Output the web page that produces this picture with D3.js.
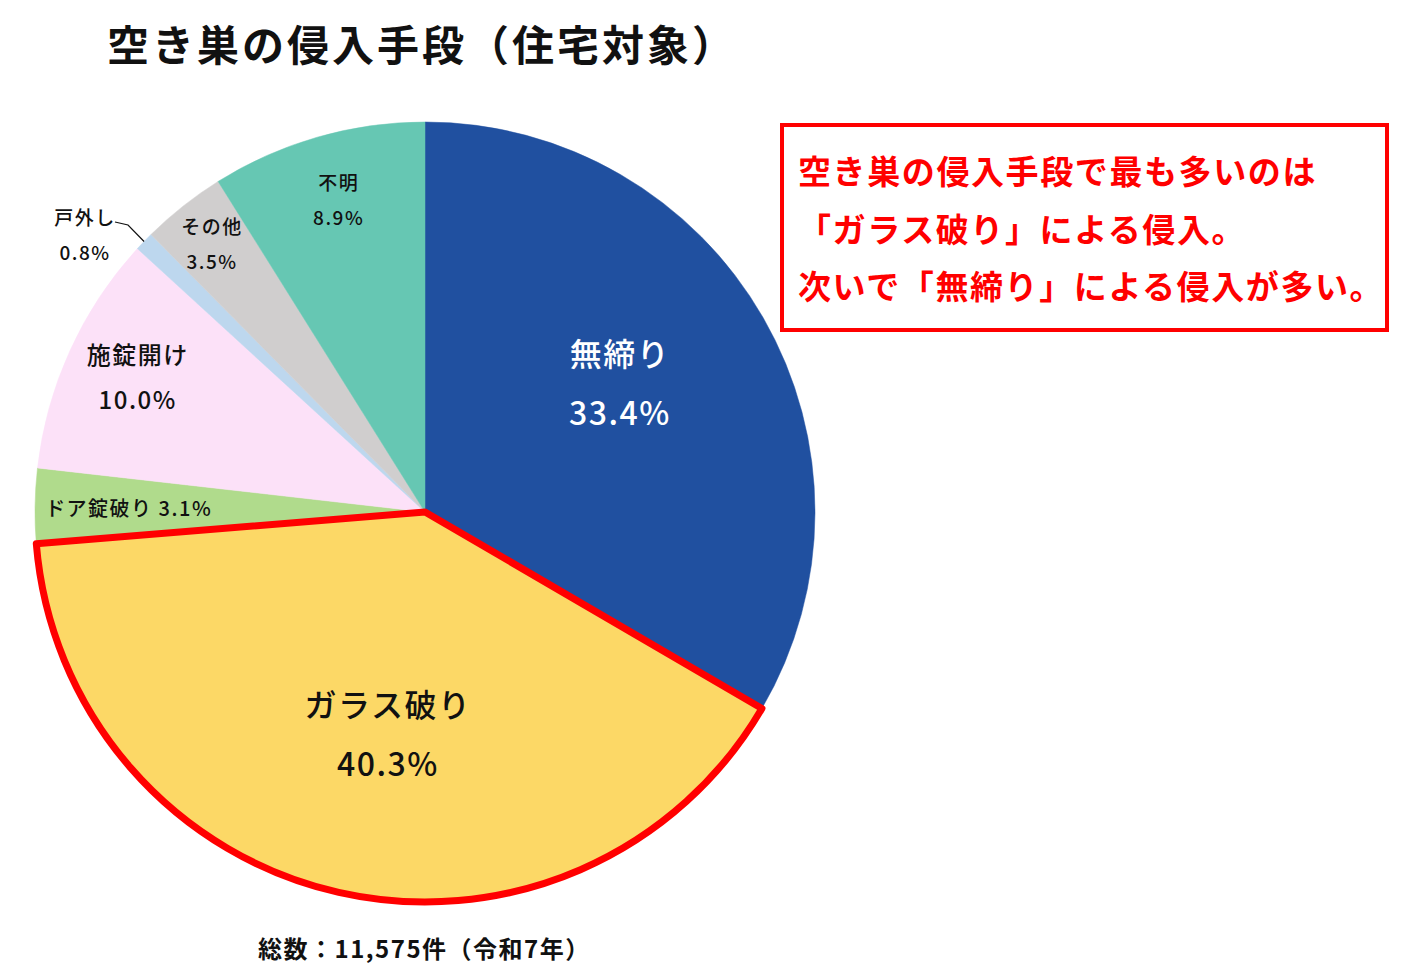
<!DOCTYPE html>
<html lang="ja">
<head>
<meta charset="utf-8">
<script src="https://cdn.jsdelivr.net/npm/d3@7"></script>
<style>
  body { margin: 0; background: #fff; }
  svg { display: block; font-family: "Noto Sans CJK JP", "Noto Sans", sans-serif; }
</style>
</head>
<body>
<div id="chart"></div>
<script>
// データ
const categories = ["無締り", "ガラス破り", "ドア錠破り", "施錠開け", "戸外し", "その他", "不明"];
const percents = [33.4, 40.3, 3.1, 10.0, 0.8, 3.5, 8.9];
const colors = ["#2050A0", "#FCD866", "#B0DB8C", "#FCE1F8", "#BDD7EE", "#D0CECE", "#66C7B3"];
const highlighted = "ガラス破り";
const titleText = "空き巣の侵入手段（住宅対象）";
const noteLines = [
  "空き巣の侵入手段で最も多いのは",
  "「ガラス破り」による侵入。",
  "次いで「無締り」による侵入が多い。"
];
const footerText = "総数：11,575件（令和7年）";

const width = 1420, height = 974;
const cx = 425, cy = 512, radius = 390;

// ラベルの位置と大きさ（半径に対する割合＋微調整）
const labelStyle = {
  "無締り":   { r: 0.60, dx: -8, dy: -14, size: 32, fill: "#fff", gap: 59 },
  "ガラス破り": { r: 0.58, dx: 13, dy: 0, size: 32, fill: "#111", gap: 59 },
  "ドア錠破り": { r: 0.76, dx: 0, dy: 0, size: 20, fill: "#111", gap: 0, inline: true },
  "施錠開け": { r: 0.815, dx: 2, dy: -5, size: 24, fill: "#111", gap: 45 },
  "その他":   { r: 0.88, dx: 0, dy: 0, size: 19, fill: "#111", gap: 35 },
  "不明":     { r: 0.83, dx: 3, dy: -2, size: 19, fill: "#111", gap: 35 }
};

const data = categories.map((c, i) => ({ name: c, value: percents[i], color: colors[i] }));

const svg = d3.select("#chart").append("svg")
  .attr("width", width)
  .attr("height", height);

// タイトル
svg.append("text")
  .attr("x", 107)
  .attr("y", 42)
  .attr("dominant-baseline", "central")
  .attr("font-size", 42)
  .attr("font-weight", 700)
  .attr("letter-spacing", 3)
  .attr("fill", "#111")
  .text(titleText);

const pie = d3.pie().sort(null).value(d => d.value);
const arcs = pie(data);
const arc = d3.arc().innerRadius(0).outerRadius(radius);

const g = svg.append("g").attr("transform", `translate(${cx},${cy})`);

g.selectAll("path.slice")
  .data(arcs)
  .enter()
  .append("path")
  .attr("class", "slice")
  .attr("d", arc)
  .attr("fill", d => d.data.color)
  .attr("stroke", d => d.data.color)
  .attr("stroke-width", 0.5);

// 強調枠
g.selectAll("path.hl")
  .data(arcs.filter(d => d.data.name === highlighted))
  .enter()
  .append("path")
  .attr("class", "hl")
  .attr("d", arc)
  .attr("fill", "none")
  .attr("stroke", "#FF0000")
  .attr("stroke-width", 7)
  .attr("stroke-linejoin", "round");

// ラベル
arcs.forEach(d => {
  const s = labelStyle[d.data.name];
  if (!s) return;
  const a = (d.startAngle + d.endAngle) / 2;
  const x = Math.sin(a) * radius * s.r + s.dx;
  const y = -Math.cos(a) * radius * s.r + s.dy;
  const t = g.append("text")
    .attr("text-anchor", "middle")
    .attr("dominant-baseline", "central")
    .attr("font-size", s.size)
    .attr("font-weight", 500)
    .attr("letter-spacing", 1.5)
    .attr("fill", s.fill);
  if (s.inline) {
    t.attr("x", x).attr("y", y).text(`${d.data.name} ${d.data.value.toFixed(1)}%`);
  } else {
    t.append("tspan").attr("x", x).attr("y", y - s.gap / 2).text(d.data.name);
    t.append("tspan").attr("x", x).attr("y", y + s.gap / 2).text(`${d.data.value.toFixed(1)}%`);
  }
});

// 戸外し：外側ラベルと引き出し線
const small = arcs.find(d => d.data.name === "戸外し");
{
  const a = (small.startAngle + small.endAngle) / 2;
  const px = Math.sin(a) * radius, py = -Math.cos(a) * radius;
  const lx = -310, ly = -290;
  g.append("path")
    .attr("d", `M${px},${py} L${lx + 13},${ly + 3} L${lx},${ly}`)
    .attr("fill", "none")
    .attr("stroke", "#111")
    .attr("stroke-width", 1.2);
  const t = g.append("text")
    .attr("text-anchor", "middle")
    .attr("dominant-baseline", "central")
    .attr("font-size", 19)
    .attr("font-weight", 500)
    .attr("letter-spacing", 1.5)
    .attr("fill", "#111");
  t.append("tspan").attr("x", -340).attr("y", -296).text(small.data.name);
  t.append("tspan").attr("x", -340).attr("y", -261).text(`${small.data.value.toFixed(1)}%`);
}

// 注記ボックス
svg.append("rect")
  .attr("x", 782)
  .attr("y", 125)
  .attr("width", 605)
  .attr("height", 205)
  .attr("fill", "#fff")
  .attr("stroke", "#FF0000")
  .attr("stroke-width", 4);

svg.append("g").selectAll("text")
  .data(noteLines)
  .enter()
  .append("text")
  .attr("x", 798)
  .attr("y", (d, i) => 170 + i * 57.5)
  .attr("dominant-baseline", "central")
  .attr("font-size", 33)
  .attr("font-weight", 700)
  .attr("letter-spacing", 1.6)
  .attr("fill", "#FF0000")
  .text(d => d);

// 総数
svg.append("text")
  .attr("x", 258)
  .attr("y", 947)
  .attr("dominant-baseline", "central")
  .attr("font-size", 24)
  .attr("font-weight", 700)
  .attr("letter-spacing", 1.5)
  .attr("fill", "#111")
  .text(footerText);
</script>
</body>
</html>
